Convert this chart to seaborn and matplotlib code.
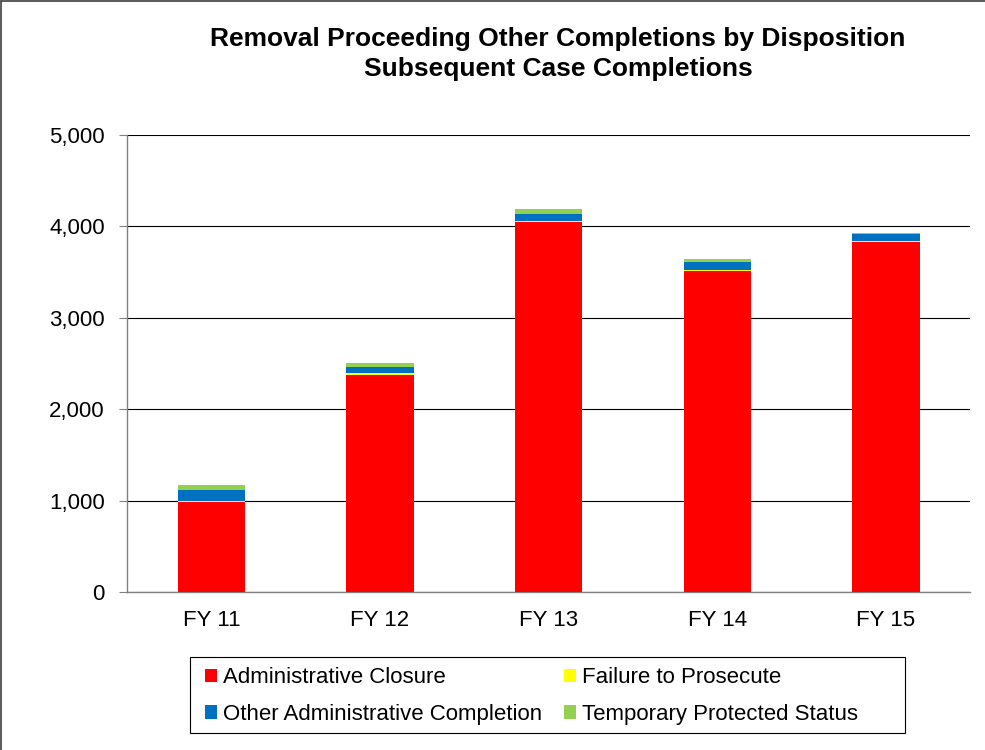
import matplotlib
matplotlib.use("Agg")
import matplotlib.pyplot as plt
from matplotlib.patches import Patch, Rectangle
from matplotlib.lines import Line2D
import numpy as np
import pandas as pd
import seaborn as sns

years = ["FY 11", "FY 12", "FY 13", "FY 14", "FY 15"]
admin_closure = [988, 2377, 4048, 3512, 3832]
failure_prosecute = [10, 15, 10, 10, 5]
other_admin = [120, 66, 80, 88, 80]
tps = [52, 42, 51, 33, 15]

series = ["Administrative Closure", "Failure to Prosecute",
          "Other Administrative Completion", "Temporary Protected Status"]
colors = ["#FF0000", "#FFFF00", "#0070C0", "#92D050"]

sns.set_style("white")
plt.rcParams["font.family"] = ["Liberation Sans", "DejaVu Sans"]
plt.rcParams["text.color"] = "black"
plt.rcParams["xtick.labelcolor"] = "black"
plt.rcParams["ytick.labelcolor"] = "black"

fig = plt.figure(figsize=(9.85, 7.5), dpi=100)
ax = fig.add_axes([0.129, 0.2107, 0.856, 0.6093])

# stack by drawing cumulative totals from the top layer down
values = [admin_closure, failure_prosecute, other_admin, tps]
cum = np.cumsum(np.array(values), axis=0)
for i in range(len(series) - 1, -1, -1):
    df = pd.DataFrame({"year": years, "value": cum[i]})
    sns.barplot(data=df, x="year", y="value", color=colors[i], width=0.4,
                saturation=1, edgecolor="none", linewidth=0, ax=ax, zorder=3)

ax.set_ylim(0, 5000)
ax.set_xlim(-0.5, 4.5)
ax.set_yticks(range(0, 5001, 1000))
ax.set_yticklabels([f"{v:,}" for v in range(0, 5001, 1000)], fontsize=16)
ax.yaxis.grid(True, color="black", linewidth=0.8)
ax.set_axisbelow(True)
ax.set_xlabel("")
ax.set_ylabel("")

ax.set_xticks(range(5))
ax.set_xticklabels(years, fontsize=16)
ax.set_xticks(np.arange(-0.5, 5, 1), minor=True)
ax.tick_params(axis="x", which="major", length=0, pad=13, labelcolor="black")
ax.tick_params(axis="x", which="minor", length=6, direction="out", color="#808080")
ax.tick_params(axis="y", length=6, direction="out", color="#808080", left=True,
               pad=10, labelcolor="black")

for side in ["top", "right"]:
    ax.spines[side].set_visible(False)
for side in ["left", "bottom"]:
    ax.spines[side].set_color("#808080")
    ax.spines[side].set_linewidth(1)

fig.text(0.5665, 0.928, "Removal Proceeding Other Completions by Disposition\nSubsequent Case Completions",
         ha="center", va="center", fontsize=19, fontweight="bold", linespacing=1.3,
         color="black")

# matplotlib fills legend columns first, so reorder to get row-wise layout
order = [0, 2, 1, 3]
handles = [Patch(facecolor=colors[k], edgecolor="none") for k in order]
labels = [series[k] for k in order]
leg = fig.legend(handles, labels, loc="center left", bbox_to_anchor=(0.208, 0.072),
                 ncol=2, fontsize=16, frameon=False, labelcolor="black",
                 handlelength=0.55, handleheight=0.55, borderpad=0, borderaxespad=0,
                 handletextpad=0.25, columnspacing=1.0, labelspacing=0.7)

# fixed-size legend frame as in the original
fig.patches.append(Rectangle((190 / 985, 1 - 733 / 750), 715 / 985, 76 / 750,
                             transform=fig.transFigure, fill=False,
                             edgecolor="black", linewidth=0.8))

fig.lines.append(Line2D([0.001, 0.001], [0, 0.999], transform=fig.transFigure,
                        color="#404040", linewidth=1.2))
fig.lines.append(Line2D([0.001, 1], [0.999, 0.999], transform=fig.transFigure,
                        color="#404040", linewidth=1.2))

fig.savefig("out.png", dpi=100)
